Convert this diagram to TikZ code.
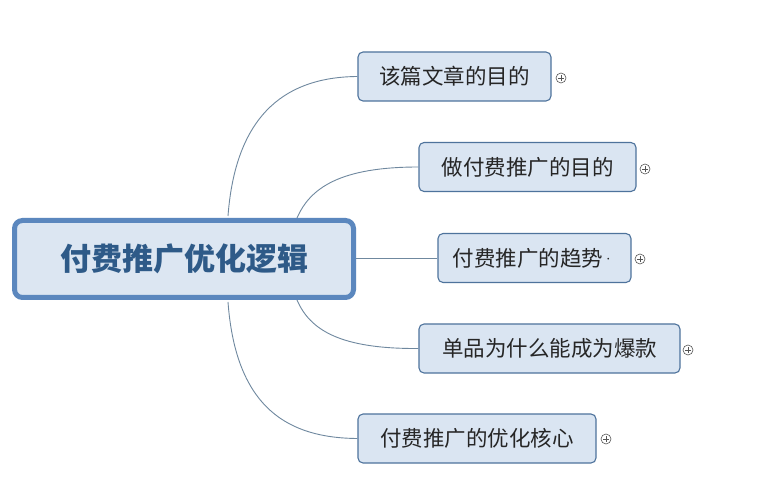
\documentclass[tikz,border=0pt]{standalone}
\usepackage{fontspec}
\newfontfamily\cjk{Noto Sans CJK SC}
\definecolor{mainfill}{HTML}{DCE6F2}
\definecolor{mainborder}{HTML}{5B87BE}
\definecolor{maintext}{HTML}{2E5A88}
\definecolor{subfill}{HTML}{DAE5F2}
\definecolor{subborder}{HTML}{4E739C}
\definecolor{linkcol}{HTML}{6F889F}
\definecolor{pluscol}{HTML}{555555}
\tikzset{
  mainbox/.style={draw=mainborder, fill=mainfill, line width=5pt, rounded corners=8pt,
    minimum width=339pt, minimum height=77pt, inner sep=0pt,
    font=\cjk\bfseries\fontsize{31}{36}\selectfont, text=maintext},
  subbox/.style={draw=subborder, fill=subfill, line width=1.1pt, rounded corners=5pt,
    minimum height=49pt, inner sep=0pt, font=\cjk\fontsize{21.5}{26}\selectfont, text=black!85},
  link/.style={draw=linkcol, line width=0.9pt},
  plusmark/.style={circle, draw=pluscol, line width=0.6pt, minimum size=10pt, inner sep=0pt,
    path picture={\draw[pluscol, line width=0.6pt]
      ([xshift=2.2pt]path picture bounding box.west)--([xshift=-2.2pt]path picture bounding box.east)
      ([yshift=-2.2pt]path picture bounding box.north)--([yshift=2.2pt]path picture bounding box.south);}}
}
\begin{document}
\begin{tikzpicture}[x=1pt,y=-1pt]
\useasboundingbox[fill=white] (0,0) rectangle (769,481);
\node[mainbox] (main) at (184,259) {付费推广优化逻辑};
\node[subbox, minimum width=193pt] (n1) at (454.5,76.5) {该篇文章的目的};
\node[subbox, minimum width=217pt] (n2) at (527.5,167) {做付费推广的目的};
\node[subbox, minimum width=193pt] (n3) at (534.5,258) {付费推广的趋势\kern-0.12em{\normalfont\fontsize{21.5}{26}\selectfont\char"00B7}};
\node[subbox, minimum width=261pt] (n4) at (549.5,348.5) {单品为什么能成为爆款};
\node[subbox, minimum width=238pt] (n5) at (477,438.5) {付费推广的优化核心};
\node[plusmark] (p1) at (561,78) {};
\node[plusmark] (p2) at (645,169) {};
\node[plusmark] (p3) at (640,259) {};
\node[plusmark] (p4) at (688,350) {};
\node[plusmark] (p5) at (606,439) {};
\coordinate (s1) at (228,216);
\coordinate (s2) at (297,218);
\coordinate (s4) at (297,300);
\coordinate (s5) at (228,302);
\path[link] (s1) .. controls (236,110) and (290,77) .. (n1.west);
\path[link] (s2) .. controls (310,188) and (340,167) .. (n2.west);
\path[link] (main.east |- n3.west) -- (n3.west);
\path[link] (s4) .. controls (310,330) and (340,349) .. (n4.west);
\path[link] (s5) .. controls (236,410) and (290,438) .. (n5.west);
\end{tikzpicture}
\end{document}
